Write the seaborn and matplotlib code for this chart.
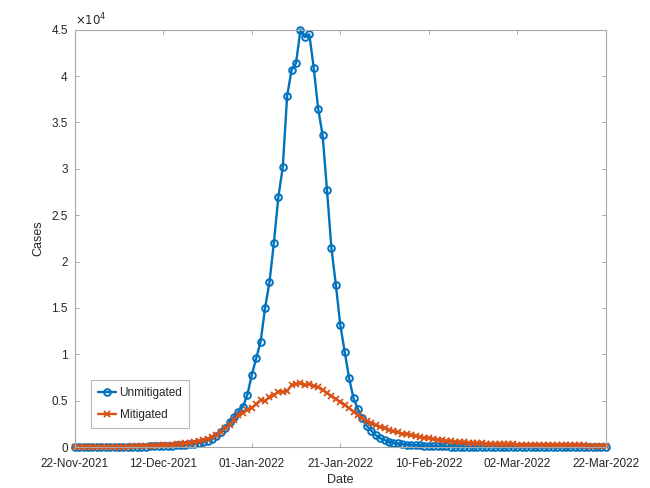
import matplotlib
matplotlib.use("Agg")
import matplotlib.pyplot as plt
import matplotlib.dates as mdates
from matplotlib.ticker import FuncFormatter
import numpy as np
import pandas as pd
import seaborn as sns

# daily cases, 22-Nov-2021 .. 22-Mar-2022
unmitigated = [
    2, 3, 3, 4, 5, 6, 7, 9, 11, 13,
    16, 19, 23, 28, 34, 41, 50, 60, 72, 87,
    105, 125, 150, 180, 215, 255, 305, 370, 450, 560,
    700, 900, 1200, 1600, 2100, 2700, 3250, 3810, 4350, 5610,
    7770, 9570, 11360, 14960, 17770, 22040, 26930, 30170, 37900, 40670,
    41400, 45000, 44200, 44500, 40900, 36500, 33650, 27720, 21430, 17500,
    13160, 10280, 7410, 5250, 4070, 3100, 2270, 1760, 1290, 940,
    760, 570, 460, 380, 320, 270, 230, 195, 165, 140,
    120, 102, 87, 74, 63, 54, 46, 39, 33, 28,
    24, 21, 18, 15, 13, 11, 9, 8, 7, 6,
    5, 4, 4, 3, 3, 3, 2, 2, 2, 2,
    1, 1, 1, 1, 1, 1, 1, 1, 1, 1, 1,
]
mitigated = [
    5, 6, 8, 9, 11, 14, 16, 20, 24, 29,
    35, 42, 50, 60, 72, 86, 103, 122, 145, 170,
    200, 235, 270, 315, 360, 415, 480, 560, 650, 760,
    900, 1080, 1300, 1650, 2000, 2400, 2950, 3450, 3700, 4000,
    4250, 4600, 5070, 4950, 5350, 5600, 5970, 5950, 6050, 6700,
    6750, 6870, 6700, 6750, 6550, 6450, 6150, 5800, 5500, 5150,
    4890, 4550, 4200, 3800, 3450, 3100, 2800, 2550, 2350, 2190,
    2000, 1830, 1700, 1580, 1450, 1350, 1270, 1180, 1100, 1020,
    940, 870, 800, 740, 680, 620, 570, 530, 490, 460,
    430, 400, 380, 360, 345, 330, 315, 300, 290, 280,
    270, 262, 255, 248, 240, 232, 225, 218, 210, 203,
    196, 190, 184, 178, 172, 167, 162, 157, 152, 148, 144,
]
dates = pd.date_range("2021-11-22", "2022-03-22", freq="D")
tick_dates = pd.date_range("2021-11-22", "2022-03-22", freq="20D")

df = pd.DataFrame({"Date": dates, "Unmitigated": unmitigated, "Mitigated": mitigated})

sns.set_style("white")
plt.rcParams["font.family"] = ["Liberation Sans", "DejaVu Sans"]

fig = plt.figure(figsize=(6.5, 4.88), dpi=100)
ax = fig.add_axes([0.115, 0.084, 0.817, 0.855])

sns.lineplot(data=df, x="Date", y="Unmitigated", ax=ax, color="#0072BD", lw=1.7,
             marker="o", ms=4.8, mfc="none", mec="#0072BD", mew=1.4, label="Unmitigated",
             clip_on=False)
sns.lineplot(data=df, x="Date", y="Mitigated", ax=ax, color="#D95319", lw=1.7,
             marker="x", ms=4.8, mec="#D95319", mew=1.3, label="Mitigated",
             clip_on=False)

ax.set_xlim(dates[0], dates[-1])
ax.set_ylim(0, 45000)
ax.set_xticks(tick_dates)
ax.xaxis.set_major_formatter(mdates.DateFormatter("%d-%b-%Y"))
ax.set_yticks(np.arange(0, 45001, 5000))
ax.yaxis.set_major_formatter(FuncFormatter(lambda v, p: f"{v / 1e4:g}"))
ax.text(0.0, 1.004, r"$\times10^{4}$", transform=ax.transAxes, ha="left", va="bottom",
        fontsize=8.5, color="#262626")

for s in ax.spines.values():
    s.set_visible(True)
    s.set_color("#a8a8a8")
    s.set_linewidth(0.8)
ax.tick_params(direction="in", length=3, width=0.7, color="#a8a8a8", labelsize=8.5,
               labelcolor="#262626", top=True, right=True, left=True, bottom=True)
ax.tick_params(axis="x", pad=8)
ax.tick_params(axis="y", pad=5)
ax.set_xlabel("Date", fontsize=9, color="#262626", labelpad=3)
ax.set_ylabel("Cases", fontsize=9, color="#262626", labelpad=5)

h, l = ax.get_legend_handles_labels()
leg = ax.legend(h, l, loc="lower left", bbox_to_anchor=(0.031, 0.046), borderaxespad=0,
                fontsize=8.5, fancybox=False, frameon=True, handlelength=1.5,
                handletextpad=0.3, borderpad=0.6, labelspacing=0.8)
leg.get_frame().set_edgecolor("#a8a8a8")
leg.get_frame().set_linewidth(0.8)

fig.savefig("out.png", dpi=100)
